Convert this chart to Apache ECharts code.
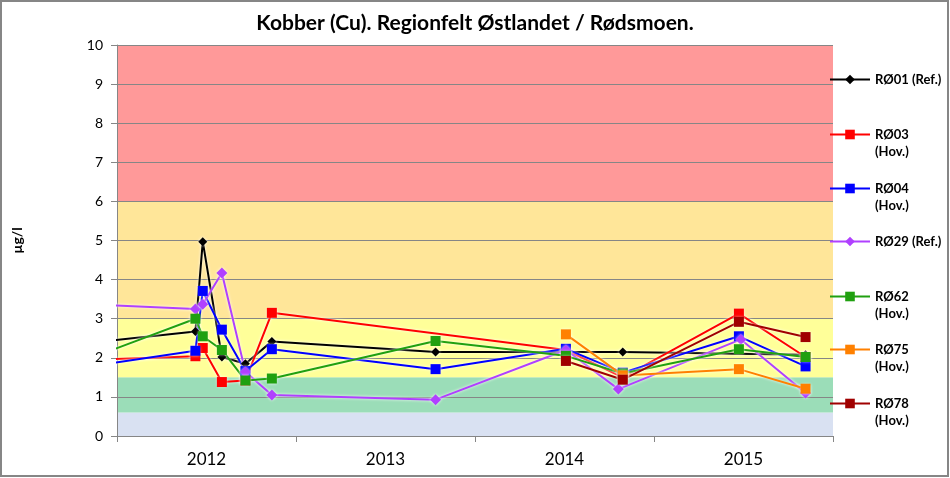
<!DOCTYPE html>
<html>
<head>
<meta charset="utf-8">
<script src="https://cdn.jsdelivr.net/npm/echarts@6/dist/echarts.min.js"></script>
<style>
html,body{margin:0;padding:0;background:#fff;}
#chart{width:950px;height:478px;}
</style>
</head>
<body>
<div id="chart"></div>
<script>
// ---- data ----
const titleText = 'Kobber (Cu). Regionfelt Østlandet / Rødsmoen.';
const yAxisName = 'µg/l';
const categories = ['2012', '2013', '2014', '2015'];
const sampleDates = ['2011-09-13', '2012-06-09', '2012-06-24', '2012-08-02', '2012-09-19', '2012-11-12', '2013-10-12', '2014-07-05', '2014-10-29', '2015-06-23', '2015-11-06'];
const sampleDatesR29 = ['2011-09-13', '2012-06-09', '2012-06-24', '2012-08-02', '2012-09-19', '2012-11-12', '2013-10-12', '2014-07-05', '2014-10-20', '2015-06-27', '2015-11-06'];
const seriesNames = ['RØ01 (Ref.)', 'RØ03 (Hov.)', 'RØ04 (Hov.)', 'RØ29 (Ref.)', 'RØ62 (Hov.)', 'RØ75 (Hov.)', 'RØ78 (Hov.)'];
const r01 = [2.31, 2.67, 4.97, 2.02, 1.85, 2.42, 2.15, null, 2.15, null, 2.08];
const r03 = [1.92, 2.04, 2.25, 1.38, 1.42, 3.15, null, 2.20, 1.50, 3.13, 2.02];
const r04 = [1.68, 2.18, 3.71, 2.72, 1.66, 2.22, 1.71, 2.23, 1.62, 2.55, 1.78];
const r29 = [3.40, 3.25, 3.37, 4.17, 1.64, 1.05, 0.93, 2.20, 1.20, 2.47, 1.10];
const r62 = [1.73, 3.00, 2.55, 2.20, 1.42, 1.47, 2.43, 2.05, 1.60, 2.22, 2.02];
const r75 = [null, null, null, null, null, null, null, 2.60, 1.55, 1.71, 1.21];
const r78 = [null, null, null, null, null, null, null, 1.92, 1.44, 2.92, 2.53];
// classification bands (µg/l)
const bandLimits = [0, 0.6, 1.5, 3, 6, 10];
const bandColors = ['#D9E1F2', '#9BDDB8', '#FFFF99', '#FFE699', '#FF9999'];

// ---- build ----
const seriesValues = [r01, r03, r04, r29, r62, r75, r78];
const seriesDates = [sampleDates, sampleDates, sampleDates, sampleDatesR29, sampleDates, sampleDates, sampleDates];
const colors = ['#000000', '#FF0000', '#0000FF', '#B040FF', '#20A010', '#FF8000', '#A00000'];
const symbols = ['diamond', 'rect', 'rect', 'diamond', 'rect', 'rect', 'rect'];
const symbolSizes = [9, 10, 10, 11, 10, 10, 10];

function pairs(dates, vals) {
  const out = [];
  vals.forEach((v, i) => { if (v !== null) out.push([dates[i], v]); });
  return out;
}

const bandAreas = bandColors.map((c, i) => [
  { yAxis: bandLimits[i], itemStyle: { color: c, opacity: 1 } },
  { yAxis: bandLimits[i + 1] }
]);

const series = seriesNames.map((name, i) => {
  const s = {
    name: name,
    type: 'line',
    xAxisIndex: 1,
    yAxisIndex: 0,
    data: pairs(seriesDates[i], seriesValues[i]),
    symbol: symbols[i],
    symbolSize: symbolSizes[i],
    showAllSymbol: true,
    clip: true,
    z: 5,
    color: colors[i],
    lineStyle: { width: 2, color: colors[i], shadowColor: 'rgba(255,255,255,0.95)', shadowBlur: 3 },
    itemStyle: { color: colors[i], shadowColor: 'rgba(255,255,255,0.9)', shadowBlur: 3 },
    emphasis: { disabled: true },
    animation: false
  };
  if (i === 0) {
    s.markArea = { silent: true, z: 0.5, data: bandAreas, animation: false };
  }
  return s;
});

const legendCenters = [79, 133, 187, 241, 295, 348, 402];
const legends = seriesNames.map((name, i) => {
  const twoLine = name.indexOf('(Hov.)') >= 0;
  return {
    data: [name],
    orient: 'vertical',
    left: 829,
    top: legendCenters[i] - (twoLine ? 24 : 8),
    padding: 0,
    itemWidth: 40,
    itemHeight: 12,
    itemGap: 5,
    selectedMode: false,
    // an empty first line keeps the station code level with the icon, as in the original
    formatter: n => n.indexOf(' (Hov.)') >= 0 ? '\n' + n.replace(' (Hov.)', '\n(Hov.)') : n,
    textStyle: {
      fontFamily: 'Lato', fontWeight: 'bold', fontSize: 13, color: '#000',
      lineHeight: 17
    }
  };
});

const chart = echarts.init(document.getElementById('chart'), null, { renderer: 'canvas' });
chart.setOption({
  animation: false,
  backgroundColor: '#fff',
  title: {
    text: titleText,
    left: 'center',
    top: 8,
    textStyle: { fontFamily: 'Lato', fontWeight: 'bold', fontSize: 21, color: '#000' }
  },
  legend: legends,
  grid: { left: 117, right: 117, top: 45, bottom: 42, containLabel: false },
  xAxis: [
    {
      type: 'category',
      data: categories,
      position: 'bottom',
      boundaryGap: true,
      z: 1,
      axisLine: { lineStyle: { color: '#868686', width: 1 } },
      axisTick: { show: true, length: 6, lineStyle: { color: '#868686' } },
      axisLabel: { interval: 0, margin: 15, fontFamily: 'Lato', fontSize: 17, color: '#000' },
      splitLine: { show: false }
    },
    {
      type: 'time',
      position: 'top',
      min: '2012-01-01',
      max: '2016-01-01',
      show: false,
      splitLine: { show: false }
    }
  ],
  yAxis: {
    type: 'value',
    min: 0,
    max: 10,
    interval: 1,
    z: 1,
    name: yAxisName,
    nameLocation: 'middle',
    nameRotate: 90,
    nameGap: 93,
    nameTextStyle: { fontFamily: 'Lato', fontWeight: 'bold', fontSize: 14, color: '#000' },
    axisLine: { show: true, lineStyle: { color: '#868686', width: 1 } },
    axisTick: { show: true, length: 6, lineStyle: { color: '#868686' } },
    axisLabel: { margin: 14, fontFamily: 'Lato', fontSize: 14, color: '#000' },
    splitLine: { show: true, lineStyle: { color: '#868686', width: 1 } }
  },
  graphic: [{
    type: 'rect',
    z: 100,
    silent: true,
    shape: { x: 1, y: 1, width: 947, height: 475 },
    style: { fill: 'none', stroke: '#868686', lineWidth: 2 }
  }],
  series: series
});
</script>
</body>
</html>
